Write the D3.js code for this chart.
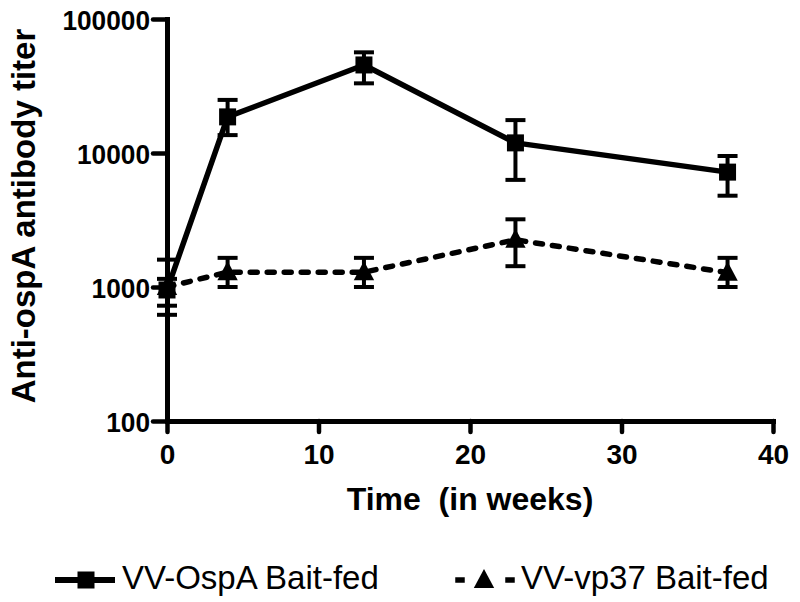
<!DOCTYPE html>
<html>
<head>
<meta charset="utf-8">
<script src="https://cdn.jsdelivr.net/npm/d3@7"></script>
<style>
  html, body { margin: 0; padding: 0; background: #fff; }
  svg { display: block; }
  text { font-family: "Liberation Sans", Arial, Helvetica, sans-serif; fill: #000; }
</style>
</head>
<body>
<svg id="chart" width="800" height="602"></svg>
<script>
// ---- data ----
const weeks = [0, 4, 13, 23, 37];
const ospaMean = [950, 18600, 45400, 11900, 7200];
const ospaLow  = [620, 13600, 33100, 6300, 4800];
const ospaHigh = [1600, 24900, 56400, 17600, 9500];
const vp37Mean = [1000, 1290, 1290, 2250, 1280];
const vp37Low  = [725, 1000, 1000, 1430, 1000];
const vp37High = [1150, 1650, 1650, 3200, 1650];
const yTicks = [100, 1000, 10000, 100000];
const xTicks = [0, 10, 20, 30, 40];
const seriesNames = ["VV-OspA Bait-fed", "VV-vp37 Bait-fed"];
const xTitle = "Time  (in weeks)";
const yTitle = "Anti-ospA antibody titer";

// ---- layout ----
const svg = d3.select("#chart");
const x = d3.scaleLinear().domain([0, 40]).range([167, 773]);
const y = d3.scaleLog().domain([100, 100000]).range([421, 19]);

const series = [
  { name: seriesNames[0], mean: ospaMean, lo: ospaLow, hi: ospaHigh, dash: null, marker: "square" },
  { name: seriesNames[1], mean: vp37Mean, lo: vp37Low, hi: vp37High, dash: "7,10", marker: "triangle" }
];

// axes
const yAxis = svg.append("g")
  .attr("transform", `translate(${x(0)},0)`)
  .call(d3.axisLeft(y).tickValues(yTicks).tickFormat(d3.format("d")).tickSize(14).tickSizeOuter(0).tickPadding(3));
const xAxis = svg.append("g")
  .attr("transform", `translate(0,${y(100)})`)
  .call(d3.axisBottom(x).tickValues(xTicks).tickFormat(d3.format("d")).tickSize(11).tickSizeOuter(0).tickPadding(12));

[yAxis, xAxis].forEach(g => {
  g.select(".domain").attr("stroke", "#000").attr("stroke-width", 5).attr("stroke-linecap", "square");
  g.selectAll(".tick line").attr("stroke", "#000").attr("stroke-width", 4.5).attr("stroke-linecap", "round");
  g.selectAll(".tick text").attr("font-size", 28).attr("font-weight", "bold")
    .attr("font-family", "'Liberation Sans', Arial, sans-serif").attr("fill", "#000");
});
yAxis.selectAll(".tick text").attr("dy", "0.36em").attr("textLength", function() {
  return this.textContent.length * 14.6;
}).attr("lengthAdjust", "spacingAndGlyphs");

// titles
svg.append("text")
  .attr("x", x(20)).attr("y", 510)
  .attr("text-anchor", "middle")
  .attr("font-size", 32).attr("font-weight", "bold")
  .style("white-space", "pre")
  .text(xTitle);
svg.append("text")
  .attr("transform", `translate(35,216) rotate(-90)`)
  .attr("text-anchor", "middle")
  .attr("font-size", 33).attr("font-weight", "bold")
  .text(yTitle);

// markers
function drawMarker(g, type, cx, cy, s) {
  if (type === "square") {
    g.append("rect").attr("x", cx - s / 2).attr("y", cy - s / 2).attr("width", s).attr("height", s).attr("fill", "#000");
  } else {
    const h = s * 1.05;
    g.append("path")
      .attr("d", `M${cx},${cy - h * 0.62} L${cx + s * 0.6},${cy + h * 0.45} L${cx - s * 0.6},${cy + h * 0.45} Z`)
      .attr("fill", "#000");
  }
}

const line = d3.line().x(d => x(d[0])).y(d => y(d[1]));

// draw vp37 first, then OspA on top
[series[1], series[0]].forEach(s => {
  const g = svg.append("g");
  const pts = weeks.map((w, i) => [w, s.mean[i]]);
  g.append("path").datum(pts)
    .attr("d", line)
    .attr("fill", "none").attr("stroke", "#000").attr("stroke-width", 5.5)
    .attr("stroke-linecap", s.dash ? "round" : "butt")
    .attr("stroke-linejoin", "round")
    .attr("stroke-dasharray", s.dash);
  weeks.forEach((w, i) => {
    const cx = x(w);
    g.append("line").attr("x1", cx).attr("x2", cx).attr("y1", y(s.lo[i])).attr("y2", y(s.hi[i]))
      .attr("stroke", "#000").attr("stroke-width", 4);
    [s.lo[i], s.hi[i]].forEach(v => {
      g.append("line").attr("x1", cx - 10).attr("x2", cx + 10).attr("y1", y(v)).attr("y2", y(v))
        .attr("stroke", "#000").attr("stroke-width", 4);
    });
    drawMarker(g, s.marker, cx, y(s.mean[i]), 17);
  });
});

// legend
const lg = svg.append("g");
// series 1
lg.append("line").attr("x1", 55).attr("x2", 115).attr("y1", 580).attr("y2", 580)
  .attr("stroke", "#000").attr("stroke-width", 6);
drawMarker(lg, "square", 86, 580, 17);
lg.append("text").attr("x", 122).attr("y", 589).attr("font-size", 33).text(seriesNames[0]);
// series 2
[460, 510].forEach(cx => {
  lg.append("line").attr("x1", cx - 2).attr("x2", cx + 2).attr("y1", 580).attr("y2", 580)
    .attr("stroke", "#000").attr("stroke-width", 5.5).attr("stroke-linecap", "square");
});
drawMarker(lg, "triangle", 484, 580, 17);
lg.append("text").attr("x", 521).attr("y", 589).attr("font-size", 33).text(seriesNames[1]);
</script>
</body>
</html>
